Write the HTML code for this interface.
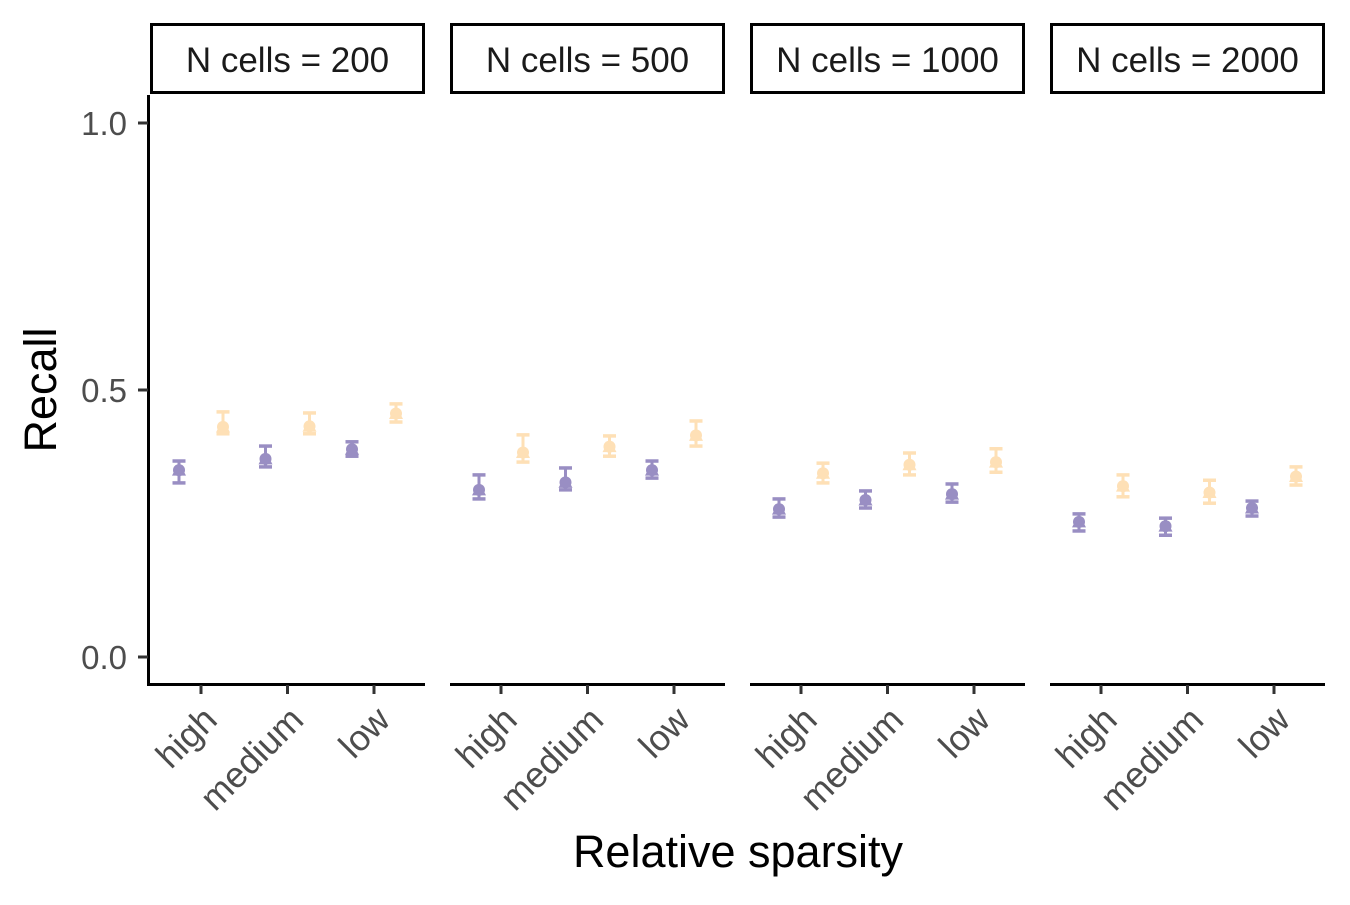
<!DOCTYPE html>
<html><head><meta charset="utf-8"><style>
body{margin:0;background:#fff}
svg text{font-family:"Liberation Sans",Arial,sans-serif}
</style></head><body>
<svg id="chart" width="1350" height="900" xmlns="http://www.w3.org/2000/svg"></svg>
<script>
const panels = ["N cells = 200","N cells = 500","N cells = 1000","N cells = 2000"];
const categories = ["high","medium","low"];
const yTicks = [0.0, 0.5, 1.0];
const yTickLabels = ["0.0","0.5","1.0"];
// per panel: [high, medium, low]
const purpleMean = [[0.350,0.371,0.389],[0.313,0.327,0.350],[0.277,0.294,0.305],[0.253,0.245,0.279]];
const purpleLo   = [[0.326,0.356,0.376],[0.296,0.313,0.335],[0.262,0.279,0.290],[0.236,0.228,0.264]];
const purpleHi   = [[0.367,0.395,0.403],[0.341,0.354,0.367],[0.296,0.311,0.324],[0.268,0.260,0.292]];
const yellowMean = [[0.431,0.432,0.456],[0.383,0.394,0.415],[0.344,0.360,0.365],[0.320,0.308,0.338]];
const yellowLo   = [[0.418,0.418,0.440],[0.365,0.376,0.395],[0.326,0.341,0.346],[0.300,0.288,0.322]];
const yellowHi   = [[0.459,0.457,0.474],[0.416,0.414,0.442],[0.363,0.382,0.390],[0.341,0.331,0.356]];

const svg = document.getElementById('chart');
const NS = "http://www.w3.org/2000/svg";
function mk(tag, attrs, parent){const e=document.createElementNS(NS,tag);for(const k in attrs)e.setAttribute(k,attrs[k]);(parent||svg).appendChild(e);return e;}
const yScale = v => 657 - v*534;
const panelX = i => 150 + i*300;
const xScale = (p,c) => panelX(p) + 51 + c*86.5;
const PURPLE="#998ec3", YELLOW="#fee0b6";

const yax = mk('line',{x1:148.5,y1:95,x2:148.5,y2:685,stroke:'#000','stroke-width':3});


yTicks.forEach((t,i)=>{
  const tk = mk('line',{x1:138,y1:yScale(t),x2:148,y2:yScale(t),stroke:'#333','stroke-width':3});
  
  
  const tl = mk('text',{x:127,y:yScale(t)+12,'text-anchor':'end','font-size':33,fill:'#4d4d4d'});
  tl.textContent = yTickLabels[i];
  
  
});
const yt = mk('text',{x:0,y:0,transform:'translate(56,390) rotate(-90)','text-anchor':'middle','font-size':45,fill:'#000'});
yt.textContent='Recall';


const xt = mk('text',{x:738,y:867,'text-anchor':'middle','font-size':45,fill:'#000'});
xt.textContent='Relative sparsity';



function point(cx, mean, lo, hi, color){
  const g = mk('g',{});
  
  
  const y1=yScale(hi), y2=yScale(lo), yc=yScale(mean);
  mk('line',{x1:cx,y1:y1,x2:cx,y2:y2,stroke:color,'stroke-width':3},g);
  mk('line',{x1:cx-6.5,y1:y1,x2:cx+6.5,y2:y1,stroke:color,'stroke-width':3.5},g);
  mk('line',{x1:cx-6.5,y1:y2,x2:cx+6.5,y2:y2,stroke:color,'stroke-width':3.5},g);
  mk('circle',{cx:cx,cy:yc,r:6,fill:color},g);
  mk('polygon',{points:`${cx},${yc-8} ${cx-7},${yc+5.5} ${cx+7},${yc+5.5}`,fill:color},g);
}

panels.forEach((name,p)=>{
  const x0 = panelX(p);
  const strip = mk('g',{});
  
  
  mk('rect',{x:x0+1.5,y:24.5,width:272,height:68,fill:'#fff',stroke:'#000','stroke-width':3},strip);
  const st = mk('text',{x:x0+137.5,y:72,'text-anchor':'middle','font-size':35,fill:'#1a1a1a'},strip);
  st.textContent = name;
  const xa = mk('line',{x1:x0-(p===0?3:0),y1:684.5,x2:x0+275,y2:684.5,stroke:'#000','stroke-width':3});
  
  
  categories.forEach((c,ci)=>{
    const cx = xScale(p,ci);
    const tk = mk('line',{x1:cx,y1:685,x2:cx,y2:694,stroke:'#333','stroke-width':3});
    
    
    const tl = mk('text',{x:0,y:0,transform:`translate(${cx+18},${722}) rotate(-45)`,'text-anchor':'end','font-size':36,fill:'#4d4d4d'});
    tl.textContent = c;
    
    
    point(cx-22, purpleMean[p][ci], purpleLo[p][ci], purpleHi[p][ci], PURPLE);
    point(cx+22, yellowMean[p][ci], yellowLo[p][ci], yellowHi[p][ci], YELLOW);
  });
});
</script>
</body></html>
